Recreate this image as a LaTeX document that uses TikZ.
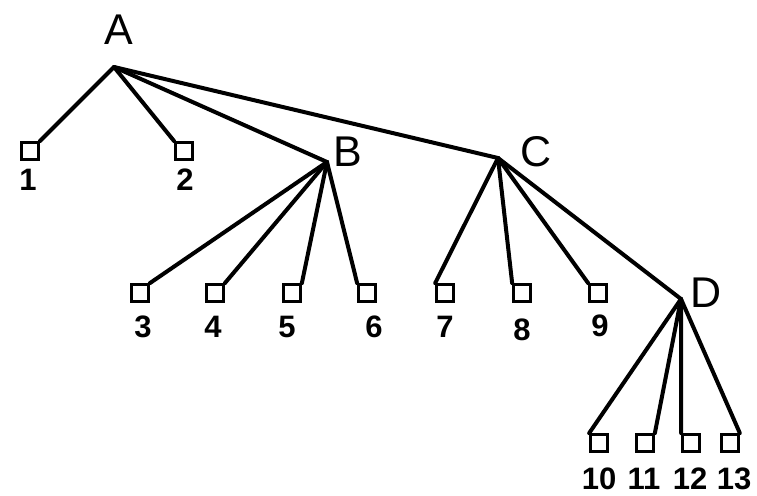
\documentclass[tikz,border=0pt]{standalone}
\usepackage{fontspec}
\setmainfont{Liberation Sans}
\begin{document}
\begin{tikzpicture}[x=1pt,y=-1pt,
  leaf/.style={draw,line width=3.2pt,minimum size=16.5pt,inner sep=0pt},
  edge/.style={line width=4pt,line cap=round,line join=round},
  letter/.style={font=\fontsize{43}{43}\selectfont,inner sep=0pt},
  num/.style={font=\bfseries\fontsize{31}{31}\selectfont,inner sep=0pt}]
\useasboundingbox (0,0) rectangle (757,495);
% branching points
\coordinate (a) at (114,67);
\coordinate (b) at (327,162);
\coordinate (c) at (498,158);
\coordinate (d) at (681,299);
% their letters
\node[letter] (la) at (119,30) {A};
\node[letter] (lb) at (348,152) {B};
\node[letter] (lc) at (536,152) {C};
\node[letter] (ld) at (706,293) {D};
% leaves
\foreach \n/\x/\y in {1/30/151,2/184/151,3/140/293,4/215/293,5/292/293,6/367/293,
  7/445/293,8/522/293,9/598/293,10/599/443,11/645/443,12/691/443,13/730/443}
  \node[leaf] (n\n) at (\x,\y) {};
% leaf numbers
\foreach \n/\x/\y in {1/28/180,2/185/180,3/143/327,4/213/327,5/287/327,6/374/327,
  7/445/327,8/522/330,9/600/326,10/599/479,11/644/479,12/690/479,13/734/479}
  \node[num] (t\n) at (\x,\y) {\n};
% edges
\draw[edge] (n1.north east) -- (a) -- (n2.north west);
\draw[edge] (a) -- (b);
\draw[edge] (a) -- (c);
\draw[edge] (b) -- (n3.north east);
\draw[edge] (b) -- (n4.north east);
\draw[edge] (b) -- (n5.north east);
\draw[edge] (b) -- (n6.north west);
\draw[edge] (c) -- (n7.north west);
\draw[edge] (c) -- (n8.north west);
\draw[edge] (c) -- (n9.north west);
\draw[edge] (c) -- (d);
\draw[edge] (d) -- (n10.north west);
\draw[edge] (d) -- (n11.north east);
\draw[edge] (d) -- (n12.north west);
\draw[edge] (d) -- (n13.north east);
\end{tikzpicture}
\end{document}
